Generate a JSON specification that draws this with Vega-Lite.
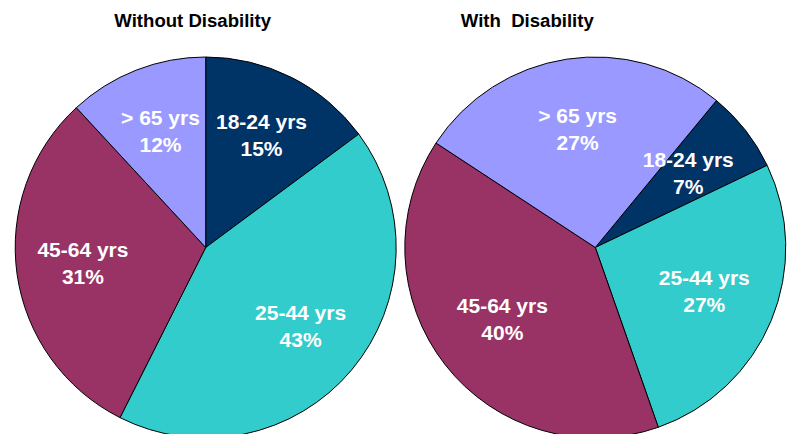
{
  "$schema": "https://vega.github.io/schema/vega-lite/v6.json",
  "padding": {"left": 13.2, "top": 12, "right": 0, "bottom": 0},
  "bounds": "flush",
  "background": "white",
  "datasets": {
    "pies": [
      {"group": "Without", "category": "18-24 yrs", "share": 0.15},
      {"group": "Without", "category": "25-44 yrs", "share": 0.43},
      {"group": "Without", "category": "45-64 yrs", "share": 0.31},
      {"group": "Without", "category": "> 65 yrs", "share": 0.12},
      {"group": "With", "category": "18-24 yrs", "share": 0.07},
      {"group": "With", "category": "25-44 yrs", "share": 0.27},
      {"group": "With", "category": "45-64 yrs", "share": 0.40},
      {"group": "With", "category": "> 65 yrs", "share": 0.27}
    ]
  },
  "config": {
    "view": {"stroke": null},
    "font": "Liberation Sans",
    "title": {"font": "Liberation Sans", "fontSize": 18.6, "fontWeight": "bold", "color": "black"}
  },
  "spacing": 8.6,
  "hconcat": [
    {
      "title": {"text": "Without Disability", "offset": 24, "dx": -13},
      "width": 381,
      "height": 381,
      "data": {"name": "pies"},
      "transform": [{"filter": "datum.group === 'Without'"}],
      "encoding": {
        "theta": {"field": "share", "type": "quantitative", "stack": true, "scale": {"range": [0, 6.2832]}},
        "order": {"field": "category", "type": "ordinal", "sort": "ascending"}
      },
      "layer": [
        {
          "mark": {"type": "arc", "outerRadius": 190.5, "stroke": "black", "strokeWidth": 1},
          "encoding": {
            "color": {"field": "category", "type": "nominal", "legend": null,
              "scale": {"domain": ["18-24 yrs", "25-44 yrs", "45-64 yrs", "> 65 yrs"], "range": ["#003366", "#33CCCC", "#993366", "#9999FF"]}}
          }
        },
        {
          "mark": {"type": "text", "radius": 124, "dy": -13.5, "fontSize": 21, "fontWeight": "bold", "color": "white"},
          "encoding": {"text": {"field": "category"}}
        },
        {
          "mark": {"type": "text", "radius": 124, "dy": 13.5, "fontSize": 21, "fontWeight": "bold", "color": "white"},
          "encoding": {"text": {"field": "share", "type": "quantitative", "format": ".0%"}}
        }
      ]
    },
    {
      "title": {"text": "With \u00a0Disability", "offset": 24, "dx": -68},
      "width": 381,
      "height": 381,
      "data": {"name": "pies"},
      "transform": [{"filter": "datum.group === 'With'"}],
      "encoding": {
        "theta": {"field": "share", "type": "quantitative", "stack": true, "scale": {"range": [0.6894, 6.9726]}},
        "order": {"field": "category", "type": "ordinal", "sort": "ascending"}
      },
      "layer": [
        {
          "mark": {"type": "arc", "outerRadius": 190.5, "stroke": "black", "strokeWidth": 1},
          "encoding": {
            "color": {"field": "category", "type": "nominal", "legend": null,
              "scale": {"domain": ["18-24 yrs", "25-44 yrs", "45-64 yrs", "> 65 yrs"], "range": ["#003366", "#33CCCC", "#993366", "#9999FF"]}}
          }
        },
        {
          "mark": {"type": "text", "radius": 118, "dy": -13.5, "fontSize": 21, "fontWeight": "bold", "color": "white"},
          "encoding": {"text": {"field": "category"}}
        },
        {
          "mark": {"type": "text", "radius": 118, "dy": 13.5, "fontSize": 21, "fontWeight": "bold", "color": "white"},
          "encoding": {"text": {"field": "share", "type": "quantitative", "format": ".0%"}}
        }
      ]
    }
  ]
}
